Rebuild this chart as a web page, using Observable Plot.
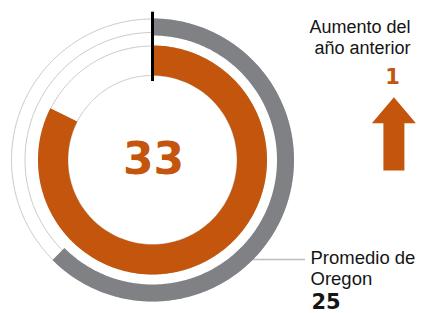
<!DOCTYPE html>
<html>
<head>
<meta charset="utf-8">
<script src="https://cdn.jsdelivr.net/npm/d3@7"></script>
<script src="https://cdn.jsdelivr.net/npm/@observablehq/plot@0.6"></script>
<style>
  html, body { margin: 0; padding: 0; background: #fff; }
  #chart svg { display: block; }
</style>
</head>
<body>
<div id="chart"></div>
<script>
// ---- Data ----
const gaugeMax = 40;
const schoolScore = [33];
const oregonAverage = [25];
const yearChange = [1];
const changeLabel = ["Aumento del\naño anterior"];
const averageLabel = ["Promedio de\nOregon"];

// ---- Style / layout constants ----
const ORANGE = "#c4550d";
const GRAY = "#808185";
const THIN = "#cacaca";
const TEXT = "#151515";
const guideRadii = [141, 127.5, 114, 84.5];

const angle = d3.scaleLinear().domain([0, gaugeMax]).range([0, 2 * Math.PI]);
function arcPoints(value, r) {
  const a = angle(value);
  const n = Math.max(2, Math.ceil(a / (Math.PI / 180)));
  return d3.range(n + 1).map(i => {
    const t = (a * i) / n;
    return { x: r * Math.sin(t), y: r * Math.cos(t) };
  });
}

const arrowShape = {
  draw(context, l) {
    const sw = 10.5, hw = 22, hl = 26;
    context.moveTo(-sw, 0);
    context.lineTo(-sw, -l + hl);
    context.lineTo(-hw, -l + hl);
    context.lineTo(0, -l);
    context.lineTo(hw, -l + hl);
    context.lineTo(sw, -l + hl);
    context.lineTo(sw, 0);
    context.closePath();
  }
};

const guideMarks = guideRadii.map(r =>
  Plot.line(arcPoints(gaugeMax, r), { x: "x", y: "y", stroke: THIN, strokeWidth: 1 })
);

const chart = Plot.plot({
  width: 422,
  height: 313,
  margin: 0,
  x: { domain: [-152, 270], axis: null },
  y: { domain: [-153.5, 159.5], axis: null },
  style: { fontFamily: "'Liberation Sans', Arial, sans-serif", background: "#fff" },
  marks: [
    ...guideMarks,
    Plot.ruleY([-99.5], { x1: 101, x2: 153, stroke: "#bdbdbd", strokeWidth: 1.5 }),
    Plot.line(arcPoints(oregonAverage[0], 133), {
      x: "x", y: "y", stroke: GRAY, strokeWidth: 17, strokeLinecap: "butt"
    }),
    Plot.line(arcPoints(schoolScore[0], 99.5), {
      x: "x", y: "y", stroke: ORANGE, strokeWidth: 30, strokeLinecap: "butt"
    }),
    Plot.ruleX([0], { y1: 78.5, y2: 147.8, stroke: "#000", strokeWidth: 3 }),
    Plot.text(schoolScore, {
      x: 1, y: 17.4, text: d => String(d), textAnchor: "middle", lineAnchor: "top",
      fontSize: 44, fontWeight: "bold", fontFamily: "'DejaVu Sans', sans-serif", fill: ORANGE
    }),
    Plot.text(changeLabel, {
      x: 258, y: 141.6, text: d => d, textAnchor: "end", lineAnchor: "top",
      lineHeight: 1.17, fontSize: 18, fill: TEXT
    }),
    Plot.text(yearChange, {
      x: 240, y: 91.1, text: d => String(d), textAnchor: "middle", lineAnchor: "top",
      fontSize: 21, fontWeight: "bold", fontFamily: "'DejaVu Sans', sans-serif", fill: ORANGE
    }),
    Plot.vector(yearChange, {
      x: 241.4, y: -10.5, length: 73.3, rotate: 0, anchor: "start",
      shape: arrowShape, fill: ORANGE, stroke: "none"
    }),
    Plot.text(averageLabel, {
      x: 158, y: -88.3, text: d => d, textAnchor: "start", lineAnchor: "top",
      lineHeight: 1.17, fontSize: 18.5, fill: TEXT
    }),
    Plot.text(oregonAverage, {
      x: 159, y: -133.6, text: d => String(d), textAnchor: "start", lineAnchor: "top",
      fontSize: 21, fontWeight: "bold", fontFamily: "'DejaVu Sans', sans-serif", fill: TEXT
    })
  ]
});
document.getElementById("chart").appendChild(chart);
</script>
</body>
</html>
